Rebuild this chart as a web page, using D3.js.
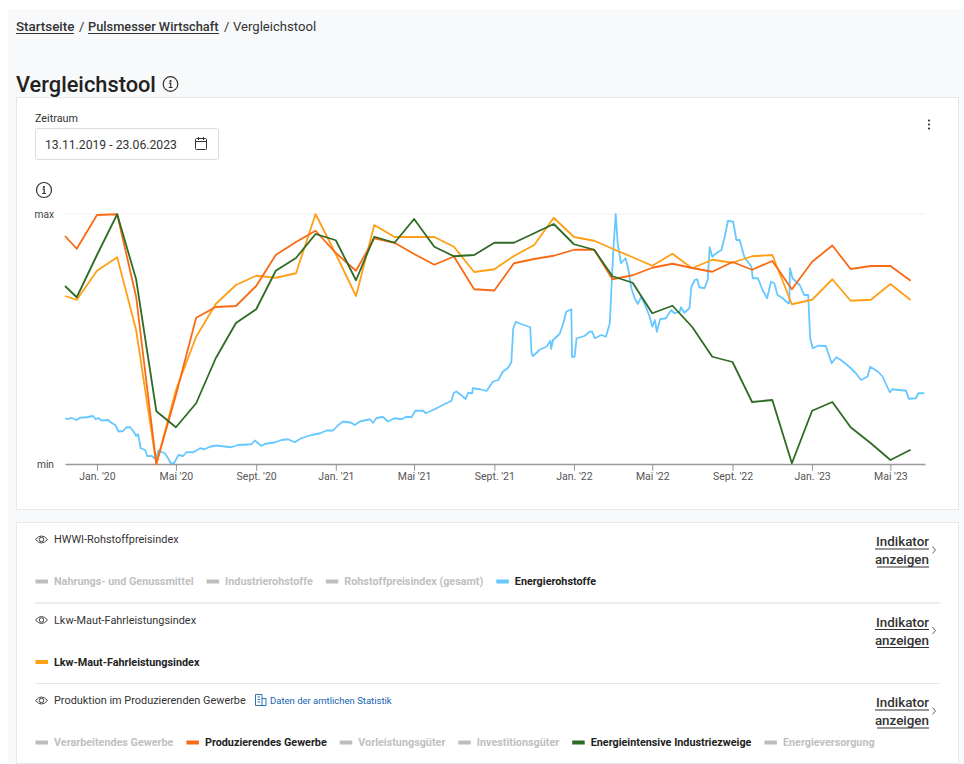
<!DOCTYPE html>
<html>
<head>
<meta charset="utf-8" />
<title>Vergleichstool</title>
<script src="https://d3js.org/d3.v7.min.js"></script>
<style>
  html, body { margin: 0; padding: 0; background: #fff; overflow: hidden; }
  svg { display: block; font-family: Roboto, sans-serif; }
  .x-axis text, .y-axis text { font-family: Roboto, sans-serif; }
</style>
</head>
<body>
<div id="chart"></div>
<script>
// monthly indicators, index 0 = lowest point of the period, 100 = highest
var monthStart = "2019-11-13";
var produzierendes = [91.2, 86.1, 99.6, 99.9, 66.9, 0, 27.6, 58.5, 62.8, 63.2, 71.2, 83.6, 88.8, 93.3, 84.4, 77.3, 90.3, 88.5, 84, 79.7, 83, 69.9, 69.4, 80.3, 82, 83.3, 85.7, 85.7, 73.9, 75.5, 78.5, 80.1, 78.4, 76.9, 80.8, 77.7, 81.2, 69.9, 80.9, 87.4, 78, 79.2, 79.2, 73.3];
var lkwMaut = [67.2, 65.7, 77.3, 82.7, 53.6, 0, 29.6, 50.9, 64, 71.6, 75.3, 74.5, 76.3, 100, 84, 67.2, 95.6, 90.8, 90.8, 90.8, 86.9, 76.8, 77.9, 83.2, 87.6, 98.5, 90.8, 89.3, 86.1, 82.7, 79.3, 84.1, 78.3, 81.7, 80.5, 83.1, 83.6, 63.9, 65.7, 73.9, 65.3, 65.7, 72, 65.6];
var energieintensiv = [71.2, 66.7, 83.6, 99.9, 73.9, 21.1, 14.7, 24.3, 42.3, 56.4, 61.9, 77.3, 82.4, 92, 89.5, 73.5, 90.9, 88.5, 98, 86.9, 83.1, 83.6, 88.5, 88.5, 92.3, 96, 87.9, 85.7, 75.1, 72.5, 60.3, 63.3, 54.9, 42.9, 40.8, 24.8, 25.6, 0.3, 21.3, 24.8, 14.7, 8.3, 1.6, 5.7];

// Energierohstoffe is daily in the source, these are the readable turning points (days since start)
var energieDays = [0, 5, 9, 13, 18, 23, 33, 43, 47, 51, 56, 66, 71, 77, 82, 89, 94, 100, 105, 109, 112, 116, 123, 126, 133, 139, 143, 153, 158, 162, 167, 174, 181, 186, 197, 207, 214, 222, 232, 255, 265, 286, 291, 301, 306, 322, 332, 342, 352, 362, 378, 391, 401, 411, 419,
  426, 439, 444, 452, 467, 472, 477, 487, 495, 505, 516, 523, 531, 537, 549, 553, 567, 579, 592, 596, 600, 607, 614, 618, 624, 625, 636, 646, 656, 664, 671, 679, 684, 687, 691, 699, 713, 715, 717, 722, 727, 738, 744, 745, 748, 758, 764, 768, 776, 777, 781, 784, 796, 804, 808, 812, 822, 829, 835, 838, 841, 844, 847, 852, 859, 863, 868, 873, 878,
  883, 891, 896, 900, 904, 907, 912, 921, 929, 934, 942, 944, 949, 957, 960, 965, 969, 972, 980, 985, 988, 992, 998, 1006, 1011, 1016, 1024, 1029, 1034, 1041, 1052, 1054, 1062, 1069, 1076, 1082, 1087, 1092, 1100, 1108, 1110, 1111, 1115, 1126, 1133, 1139, 1142, 1146, 1154, 1166, 1175, 1182, 1189, 1202, 1212, 1220, 1230, 1234, 1246, 1253, 1264, 1268, 1289, 1293, 1304, 1308, 1317];
var energieValues = [18.3, 17.9, 18.5, 18.1, 17.6, 18.5, 18.7, 19.2, 17.9, 18.4, 17.4, 17.6, 16.5, 15.6, 13, 13.2, 14.7, 14.7, 13, 11.2, 11.9, 6.3, 5.6, 3.2, 3.2, 1.9, 5.4, 4.3, 2.3, 0.3, 0.3, 3.6, 3.2, 4.7, 4.7, 6.3, 5.9, 6.9, 7.4, 6.7, 7.6, 7.9, 9.4, 7.2, 8, 8.7, 9.6, 9.9, 8.7, 10.3, 11.6, 12.3, 13.4, 13.4, 15.6,
  17, 16.5, 15.6, 17, 17.9, 16.5, 18.3, 18.9, 17, 18.3, 17.9, 18.9, 18.7, 21.3, 21.3, 20.3, 22, 23.6, 25.2, 28.5, 29, 27.6, 26, 28.5, 28.3, 30.3, 29.9, 29.2, 33, 33.6, 36.9, 38.5, 40.7, 54.3, 56.9, 56, 54.7, 44.3, 43.2, 44.3, 45.6, 47, 49.3, 46, 49.6, 52, 56.5, 60.9, 61.9, 42.9, 42.9, 50.3, 51.2, 52.9, 52.9, 50.3, 51.6, 50.9, 56.3, 73.6, 88.3, 100, 88.3, 80.3, 82.3, 78.3, 70.3, 66.3, 64,
  66.9, 62.3, 59, 54.9, 57.6, 52.9, 57.9, 58.3, 61.6, 60.3, 60.9, 62.7, 60.5, 62.3, 70.9, 73.6, 73.9, 70.7, 70.3, 73.6, 86.7, 82.9, 84.3, 85.6, 90.9, 97.3, 96.9, 89.6, 89.6, 82.9, 78.9, 74.3, 74.3, 69.6, 66.3, 72.9, 72.3, 67.6, 66.3, 64.3, 64.3, 78.3, 74.3, 71.6, 67.6, 67.6, 50.3, 46.3, 47.3, 47.2, 40.3, 42.7, 41.6, 38.9, 36.3, 33.6, 35, 38.9, 36.9, 35, 28.7, 29.9, 29.3, 26.1, 26.3, 28.3, 28.3];

var tickDates = ["2020-01-01", "2020-05-01", "2020-09-01", "2021-01-01", "2021-05-01", "2021-09-01", "2022-01-01", "2022-05-01", "2022-09-01", "2023-01-01", "2023-05-01"];
var tickLabels = ["Jan. '20", "Mai '20", "Sept. '20", "Jan. '21", "Mai '21", "Sept. '21", "Jan. '22", "Mai '22", "Sept. '22", "Jan. '23", "Mai '23"];

var groupTitles = ["HWWI-Rohstoffpreisindex", "Lkw-Maut-Fahrleistungsindex", "Produktion im Produzierenden Gewerbe"];
var groupLegends = [
  ["Nahrungs- und Genussmittel", "Industrierohstoffe", "Rohstoffpreisindex (gesamt)", "Energierohstoffe"],
  ["Lkw-Maut-Fahrleistungsindex"],
  ["Verarbeitendes Gewerbe", "Produzierendes Gewerbe", "Vorleistungsgüter", "Investitionsgüter", "Energieintensive Industriezweige", "Energieversorgung"]
];

var colors = {
  "Energierohstoffe": "#66c8ff",
  "Lkw-Maut-Fahrleistungsindex": "#ff9f15",
  "Produzierendes Gewerbe": "#f96a14",
  "Energieintensive Industriezweige": "#2f6b25"
};

var parseDate = d3.utcParse("%Y-%m-%d");
var start = parseDate(monthStart);
var end = parseDate("2023-06-23");

var svg = d3.select("#chart").append("svg").attr("width", 964).attr("height", 764);

// page background and the two cards
svg.append("rect").attr("x", 8).attr("y", 9).attr("width", 956).attr("height", 755).attr("fill", "#f8f9fb");
svg.append("rect").attr("x", 16.5).attr("y", 97.5).attr("width", 942).attr("height", 412).attr("fill", "#fff").attr("stroke", "#e6e7e9");
svg.append("rect").attr("x", 16.5).attr("y", 522.5).attr("width", 942).attr("height", 241).attr("fill", "#fff").attr("stroke", "#e6e7e9");

function label(x, y, str, size, weight, fill, anchor) {
  return svg.append("text").attr("x", x).attr("y", y).text(str)
    .attr("font-size", size).attr("font-weight", weight).attr("fill", fill)
    .attr("text-anchor", anchor || "start");
}

function underline(x1, x2, y, color) {
  svg.append("line").attr("x1", x1).attr("x2", x2).attr("y1", y).attr("y2", y)
    .attr("stroke", color).attr("stroke-width", 1);
}

function infoIcon(cx, cy, r) {
  var g = svg.append("g").attr("fill", "none").attr("stroke", "#333").attr("stroke-width", 1.2);
  g.append("circle").attr("cx", cx).attr("cy", cy).attr("r", r);
  g.append("path").attr("d", "M" + (cx - 1.5) + " " + (cy - 0.8) + "h1.7v4.3M" + (cx - 1.8) + " " + (cy + 3.5) + "h3.8");
  g.append("circle").attr("cx", cx).attr("cy", cy - 3).attr("r", 0.5).attr("fill", "#333");
}

function eyeIcon(cx, cy) {
  var g = svg.append("g").attr("fill", "none").attr("stroke", "#444").attr("stroke-width", 1);
  g.append("path").attr("d", "M" + (cx - 6) + " " + cy + "Q" + cx + " " + (cy - 7) + " " + (cx + 6) + " " + cy + "Q" + cx + " " + (cy + 7) + " " + (cx - 6) + " " + cy + "Z");
  g.append("circle").attr("cx", cx).attr("cy", cy).attr("r", 2.2);
}

// breadcrumb + heading
label(16, 30.5, "Startseite", 13.4, 500, "#333");
underline(16, 74, 33.5, "#333");
label(79, 30.5, "/", 13, 400, "#333");
label(88, 30.5, "Pulsmesser Wirtschaft", 12.8, 500, "#333");
underline(88, 219, 33.5, "#333");
label(224, 30.5, "/", 13, 400, "#333");
label(233, 30.5, "Vergleichstool", 13.1, 400, "#333");
label(16, 92, "Vergleichstool", 21.8, 500, "#222");
infoIcon(170.5, 84, 7.3);

// period picker
label(35, 122, "Zeitraum", 10.8, 400, "#333");
svg.append("rect").attr("x", 35.5).attr("y", 128.5).attr("width", 183).attr("height", 31).attr("rx", 2)
  .attr("fill", "#fff").attr("stroke", "#dcdcdc");
label(45, 148.5, "13.11.2019 - 23.06.2023", 12.2, 400, "#333");
var cal = svg.append("g").attr("fill", "none").attr("stroke", "#333").attr("stroke-width", 1);
cal.append("rect").attr("x", 195.5).attr("y", 138.5).attr("width", 11).attr("height", 11).attr("rx", 1);
cal.append("path").attr("d", "M195.5 141.5h11M198.5 137v3M203.5 137v3");
// menu dots
svg.selectAll(".dot").data([-4, 0, 4]).enter().append("circle").attr("class", "dot")
  .attr("cx", 929).attr("cy", function (d) { return 124.5 + d; }).attr("r", 1.1).attr("fill", "#333");

infoIcon(44, 190, 7.5);

// chart
var x = d3.scaleUtc().domain([start, end]).range([65, 925]);
var y = d3.scaleLinear().domain([0, 100]).range([464, 214]);

svg.append("line").attr("x1", 65).attr("x2", 925).attr("y1", y(100)).attr("y2", y(100))
  .attr("stroke", "#f0f0f0").attr("stroke-width", 1);

var xAxis = d3.axisBottom(x)
  .tickValues(tickDates.map(parseDate))
  .tickSizeInner(7)
  .tickSizeOuter(0)
  .tickFormat(function (d, i) { return tickLabels[i]; });

var gx = svg.append("g").attr("class", "x-axis").attr("transform", "translate(0,464)").call(xAxis);
gx.select(".domain").attr("stroke", "#999").attr("stroke-width", 1.5);
gx.selectAll(".tick line").attr("stroke", "#999");
gx.selectAll(".tick text").attr("fill", "#555").attr("font-size", 10.5).attr("dy", "0.55em");

var yAxis = d3.axisLeft(y).tickValues([0, 100]).tickSize(0)
  .tickFormat(function (d) { return d == 0 ? "min" : "max"; });
var gy = svg.append("g").attr("class", "y-axis").attr("transform", "translate(65,0)").call(yAxis);
gy.select(".domain").remove();
gy.selectAll(".tick text").attr("fill", "#444").attr("font-size", 10.2).attr("x", -11);

var line = d3.line()
  .x(function (d) { return x(d.date); })
  .y(function (d) { return y(d.value); });

var months = [start].concat(d3.utcMonth.range(parseDate("2019-12-01"), parseDate("2023-07-01")));
function monthly(values) {
  return values.map(function (v, i) { return { date: months[i], value: v }; });
}
var energie = energieValues.map(function (v, i) {
  return { date: d3.utcDay.offset(start, energieDays[i]), value: v };
});

var seriesList = [
  { name: "Energierohstoffe", points: energie },
  { name: "Lkw-Maut-Fahrleistungsindex", points: monthly(lkwMaut) },
  { name: "Produzierendes Gewerbe", points: monthly(produzierendes) },
  { name: "Energieintensive Industriezweige", points: monthly(energieintensiv) }
];

svg.selectAll(".series").data(seriesList).enter().append("path")
  .attr("class", "series")
  .attr("fill", "none")
  .attr("stroke-width", 1.8)
  .attr("stroke-linejoin", "round")
  .attr("stroke", function (d) { return colors[d.name]; })
  .attr("d", function (d) { return line(d.points); });

// indicator list
var headerY = [539.5, 620, 700.5];
var legendY = [581.5, 662, 742.5];

groupTitles.forEach(function (title, i) {
  eyeIcon(41.5, headerY[i]);
  label(54, headerY[i] + 3.8, title, 10.9, 400, "#333");

  label(929, headerY[i] + 6.5, "Indikator", 13.4, 500, "#333", "end");
  underline(875, 929, headerY[i] + 9.5, "#333");
  label(929, headerY[i] + 24.5, "anzeigen", 13.4, 500, "#333", "end");
  underline(877, 929, headerY[i] + 27.5, "#333");
  svg.append("path").attr("d", "M932.5 " + (headerY[i] + 7) + "l3 3.5l-3 3.5")
    .attr("fill", "none").attr("stroke", "#666");

  // legend flows left to right
  var cursor = 35.5;
  groupLegends[i].forEach(function (name) {
    var active = colors[name] !== undefined;
    svg.append("rect").attr("x", cursor).attr("y", legendY[i] - 2).attr("width", 12.5).attr("height", 4)
      .attr("fill", active ? colors[name] : "#bdbdbd");
    var t = label(cursor + 18.5, legendY[i] + 3.8, name, 10.8, 700, active ? "#222" : "#c0c0c0");
    cursor += 18.5 + t.node().getComputedTextLength() + 13;
  });

  if (i < 2) {
    svg.append("line").attr("x1", 35).attr("x2", 940).attr("y1", i == 0 ? 603 : 683.5).attr("y2", i == 0 ? 603 : 683.5)
      .attr("stroke", "#e6e7e9").attr("stroke-width", i == 0 ? 1.5 : 1);
  }
});

// official statistics link
var bld = svg.append("g").attr("fill", "none").attr("stroke", "#1565b0").attr("stroke-width", 0.9);
bld.append("path").attr("d", "M255.5 705.5v-11h6.5v11zM262 698.5h4v7h-4M257.5 697h2.5M257.5 699.5h2.5M257.5 702h2.5");
label(270, 703.5, "Daten der amtlichen Statistik", 9.5, 400, "#1565b0");
</script>
</body>
</html>
